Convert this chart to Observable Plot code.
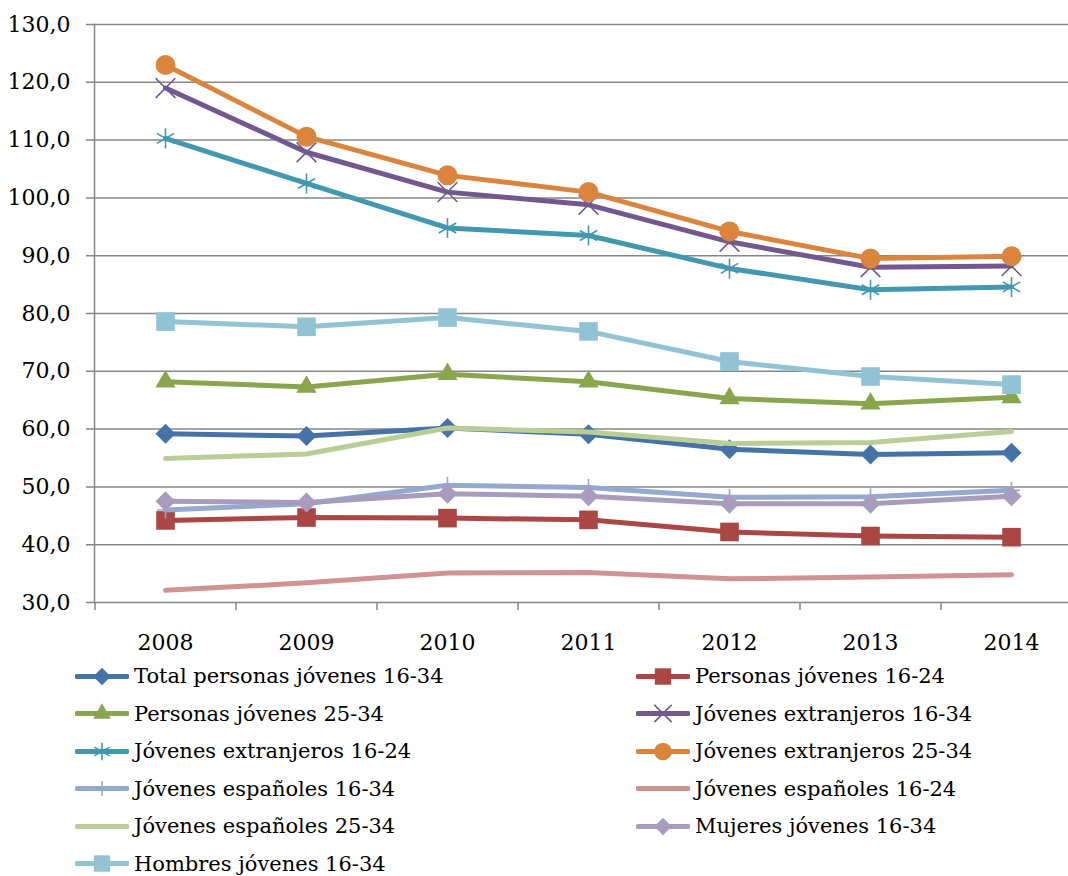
<!DOCTYPE html>
<html><head><meta charset="utf-8">
<script src="https://cdn.jsdelivr.net/npm/d3@7"></script>
<script src="https://cdn.jsdelivr.net/npm/@observablehq/plot@0.6"></script>
<style>
body{margin:0;background:#fff;font-family:'DejaVu Serif',serif;}
#legend{display:grid;grid-template-columns:561px 1fr;padding-left:75px;margin-top:-7.75px;}
.item{display:flex;align-items:center;height:37.5px;font-size:21px;color:#000;white-space:nowrap;font-family:'DejaVu Serif',serif;}
.item svg{margin-right:5px;flex:none;}
</style></head><body>
<div id="chart"></div><div id="legend"></div>
<script>
const years = ["2008","2009","2010","2011","2012","2013","2014"];
const seriesNames = [
  "Total personas jóvenes 16-34",
  "Personas jóvenes 16-24",
  "Personas jóvenes 25-34",
  "Jóvenes extranjeros 16-34",
  "Jóvenes extranjeros 16-24",
  "Jóvenes extranjeros 25-34",
  "Jóvenes españoles 16-34",
  "Jóvenes españoles 16-24",
  "Jóvenes españoles 25-34",
  "Mujeres jóvenes 16-34",
  "Hombres jóvenes 16-34"
];
const total16_34 = [59.2, 58.8, 60.2, 59.1, 56.5, 55.6, 55.9];
const personas16_24 = [44.2, 44.7, 44.6, 44.3, 42.2, 41.5, 41.3];
const personas25_34 = [68.2, 67.3, 69.5, 68.2, 65.3, 64.4, 65.5];
const extranjeros16_34 = [119.0, 107.9, 101.0, 98.8, 92.4, 88.0, 88.2];
const extranjeros16_24 = [110.3, 102.5, 94.8, 93.5, 87.8, 84.1, 84.6];
const extranjeros25_34 = [123.0, 110.6, 103.9, 101.0, 94.2, 89.5, 89.9];
const espanoles16_34 = [46.0, 47.1, 50.3, 49.9, 48.2, 48.3, 49.4];
const espanoles16_24 = [32.1, 33.4, 35.1, 35.2, 34.1, 34.4, 34.8];
const espanoles25_34 = [54.9, 55.7, 60.2, 59.5, 57.5, 57.7, 59.6];
const mujeres16_34 = [47.5, 47.3, 48.8, 48.4, 47.1, 47.1, 48.4];
const hombres16_34 = [78.6, 77.7, 79.3, 76.9, 71.7, 69.1, 67.7];
const yTicks = [30, 40, 50, 60, 70, 80, 90, 100, 110, 120, 130];

const seriesValues = [total16_34, personas16_24, personas25_34, extranjeros16_34, extranjeros16_24,
  extranjeros25_34, espanoles16_34, espanoles16_24, espanoles25_34, mujeres16_34, hombres16_34];

const styles = [
  {color:"#4572A7", symbol:"diamond2", r:9, fill:true},
  {color:"#AA4643", symbol:"square", r:10.5, fill:true},
  {color:"#89A54E", symbol:"triangle", r:7.5, fill:true},
  {color:"#71588F", symbol:"times", r:9, fill:false},
  {color:"#4198AF", symbol:"asterisk", r:9.5, fill:false},
  {color:"#DB843D", symbol:"circle", r:10, fill:true},
  {color:"#93A9CF", symbol:"plus", r:5.5, fill:false},
  {color:"#D19392", symbol:null},
  {color:"#B9CD96", symbol:null},
  {color:"#A99BBD", symbol:"diamond2", r:9, fill:true},
  {color:"#92C3D5", symbol:"square", r:10.5, fill:true}
];

const rows = seriesNames.flatMap((name, i) => years.map((yr, j) => ({series: name, year: yr, value: seriesValues[i][j]})));

const xRange = [94, 1081];
const step = (xRange[1] - xRange[0]) / years.length;
const grid = "#868686";

const seriesMarks = seriesNames.flatMap((name, i) => {
  const s = styles[i];
  const sub = rows.filter(d => d.series === name);
  const m = [Plot.line(sub, {x: "year", y: "value", stroke: s.color, strokeWidth: 5, strokeLinecap: "round", strokeLinejoin: "round"})];
  if (s.symbol) {
    m.push(Plot.dot(sub, s.fill
      ? {x: "year", y: "value", symbol: s.symbol, r: s.r, fill: s.color, stroke: "none"}
      : {x: "year", y: "value", symbol: s.symbol, r: s.r, fill: "none", stroke: s.color, strokeWidth: 1.6}));
  }
  return m;
});

const chart = Plot.plot({
  width: 1068,
  height: 665,
  marginLeft: 94,
  marginRight: 0,
  marginTop: 24,
  marginBottom: 63,
  style: {fontFamily: "DejaVu Serif", fontSize: "22px", color: "#000", background: "#fff"},
  x: {type: "point", domain: years, range: xRange, padding: 0.5, label: null},
  y: {domain: [30, 130], label: null},
  marks: [
    Plot.ruleY(yTicks, {stroke: grid, strokeWidth: 1.5, insetLeft: -8}),
    Plot.frame({anchor: "left", stroke: grid, strokeWidth: 1.5}),
    Plot.axisY({ticks: yTicks, tickSize: 0, tickPadding: 24, label: null, tickFormat: d => d.toFixed(1).replace(".", ",")}),
    Plot.axisX({tickSize: 8, tickPadding: 0, dx: -step / 2, stroke: grid, strokeWidth: 1.5, tickFormat: () => "", label: null}),
    Plot.axisX({tickSize: 0, tickPadding: 32, label: null}),
    ...seriesMarks
  ]
});
document.getElementById("chart").appendChild(chart);

const symMap = {diamond2: d3.symbolDiamond2, square: d3.symbolSquare, triangle: d3.symbolTriangle,
  times: d3.symbolTimes, asterisk: d3.symbolAsterisk, circle: d3.symbolCircle, plus: d3.symbolPlus};
const legend = d3.select("#legend");
seriesNames.forEach((name, i) => {
  const s = styles[i];
  const item = legend.append("div").attr("class", "item");
  const svg = item.append("svg").attr("width", 54).attr("height", 37);
  svg.append("line").attr("x1", 2).attr("x2", 52).attr("y1", 18.5).attr("y2", 18.5)
    .attr("stroke", s.color).attr("stroke-width", 5).attr("stroke-linecap", "round");
  if (s.symbol) {
    const rr = s.r * 0.88;
    const p = svg.append("path").attr("transform", "translate(27,18.5)")
      .attr("d", d3.symbol(symMap[s.symbol], Math.PI * rr * rr)());
    if (s.fill) p.attr("fill", s.color);
    else p.attr("fill", "none").attr("stroke", s.color).attr("stroke-width", 1.6);
  }
  item.append("span").text(name);
});
</script>
</body></html>
